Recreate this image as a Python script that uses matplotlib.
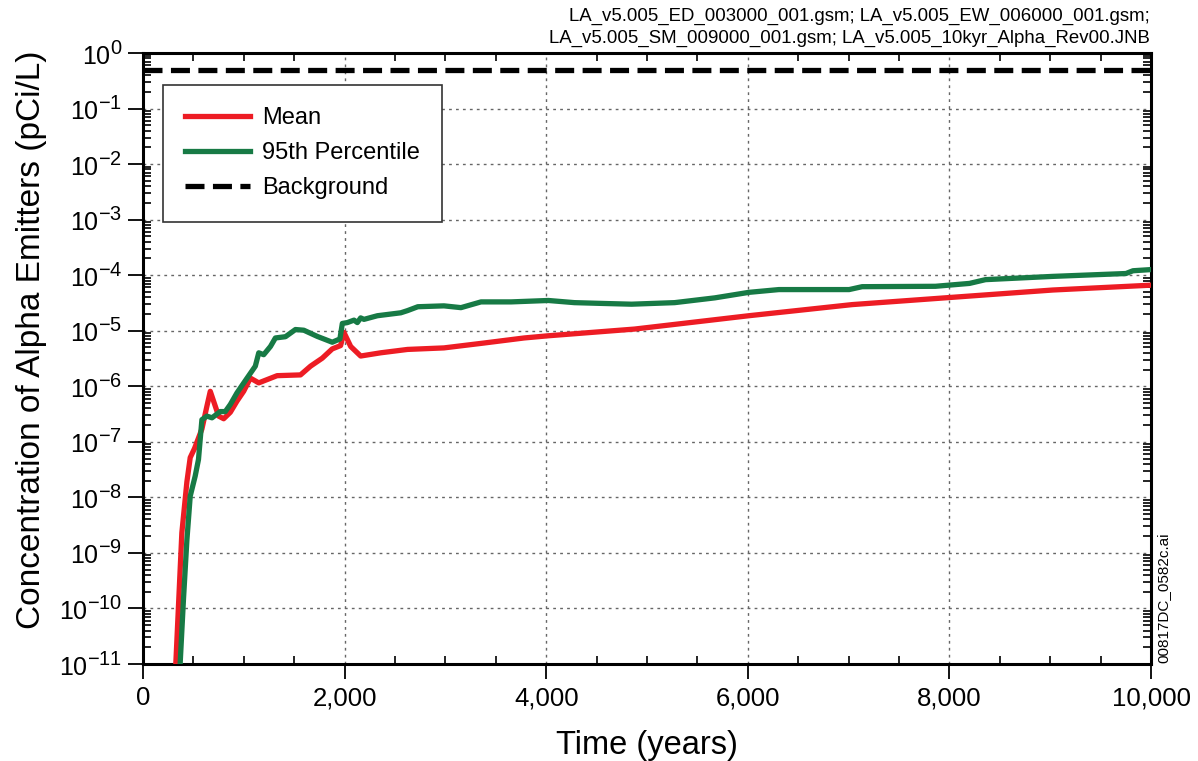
import math
import matplotlib
import matplotlib.pyplot as plt
from matplotlib.ticker import LogLocator, FixedLocator, MultipleLocator, FuncFormatter, NullFormatter

plt.rcParams['font.family'] = ['Liberation Sans', 'DejaVu Sans']
plt.rcParams['mathtext.fontset'] = 'custom'
plt.rcParams['mathtext.rm'] = 'Liberation Sans'
plt.rcParams['mathtext.it'] = 'Liberation Sans:italic'
# larger exponents on the decade labels
matplotlib._mathtext.SHRINK_FACTOR = 0.8

# mean concentration (pCi/L) vs time (years)
time_mean = [325, 385, 435, 468, 511, 584, 634, 667, 750, 800, 866, 932, 998,
             1065, 1148, 1330, 1562, 1662, 1778, 1877, 1960, 1993, 2060, 2159,
             2358, 2624, 2985, 3383, 3781, 4020, 4876, 6010, 7035, 8020, 9025, 10000]
conc_mean = [1e-11, 2.3e-9, 1.9e-8, 5.2e-8, 7.6e-8, 1.7e-7, 4.4e-7, 8.1e-7, 2.9e-7,
             2.6e-7, 3.4e-7, 5.4e-7, 8.1e-7, 1.4e-6, 1.15e-6, 1.55e-6, 1.6e-6,
             2.3e-6, 3.2e-6, 4.7e-6, 5.4e-6, 9.3e-6, 5.2e-6, 3.5e-6, 4.0e-6,
             4.6e-6, 4.9e-6, 6.0e-6, 7.4e-6, 8.1e-6, 1.07e-5, 1.86e-5, 2.95e-5,
             3.98e-5, 5.4e-5, 6.6e-5]

# 95th percentile concentration
time_p95 = [368, 401, 435, 468, 517, 550, 584, 634, 684, 766, 816, 866, 932, 965,
            1032, 1114, 1148, 1197, 1264, 1313, 1413, 1512, 1595, 1728, 1877, 1953,
            1977, 2027, 2093, 2126, 2159, 2192, 2325, 2557, 2624, 2726, 2985, 3154,
            3353, 3652, 4020, 4279, 4547, 4846, 5274, 5672, 6010, 6308, 7005, 7134,
            7861, 8199, 8358, 9025, 9751, 9821, 10000]
conc_p95 = [1e-11, 1.45e-10, 1.7e-9, 1.05e-8, 2.4e-8, 4.8e-8, 2.5e-7, 2.9e-7, 2.7e-7,
            3.5e-7, 3.5e-7, 4.7e-7, 7.6e-7, 9.3e-7, 1.4e-6, 2.3e-6, 4.0e-6, 3.7e-6,
            5.2e-6, 7.4e-6, 7.8e-6, 1.05e-5, 1.02e-5, 7.9e-6, 6.2e-6, 7.1e-6,
            1.35e-5, 1.4e-5, 1.55e-5, 1.4e-5, 1.7e-5, 1.6e-5, 1.86e-5, 2.1e-5,
            2.3e-5, 2.7e-5, 2.8e-5, 2.6e-5, 3.3e-5, 3.3e-5, 3.5e-5, 3.2e-5, 3.1e-5,
            3.0e-5, 3.2e-5, 3.9e-5, 4.9e-5, 5.5e-5, 5.5e-5, 6.2e-5, 6.3e-5, 7.1e-5,
            8.3e-5, 9.5e-5, 1.07e-4, 1.2e-4, 1.26e-4]

background = 0.5
x_ticks = [0, 2000, 4000, 6000, 8000, 10000]

fig = plt.figure(figsize=(11.98, 7.61), dpi=100)
ax = fig.add_axes([0.1194, 0.1275, 0.8414, 0.8029])

ax.plot(time_mean, conc_mean, color='#ED1C24', lw=3.8, label='Mean', zorder=3)
ax.plot(time_p95, conc_p95, color='#177A45', lw=3.8, label='95th Percentile', zorder=3)
ax.axhline(background, color='black', lw=3.8, ls=(0, (3.6, 1.6)), label='Background', zorder=3)

ax.set_yscale('log')
ax.set_xlim(0, 10000)
ax.set_ylim(1e-11, 1)

ax.xaxis.set_major_locator(FixedLocator(x_ticks))
ax.xaxis.set_minor_locator(MultipleLocator(500))
ax.xaxis.set_major_formatter(FuncFormatter(lambda v, p: f'{int(v):,}'))
ax.yaxis.set_major_locator(LogLocator(base=10, numticks=20))
ax.yaxis.set_minor_locator(LogLocator(base=10, subs=range(2, 10), numticks=20))
ax.yaxis.set_minor_formatter(NullFormatter())
ax.yaxis.set_major_formatter(FuncFormatter(lambda v, p: r'$10^{%d}$' % round(math.log10(v))))

# major ticks point outward on left/bottom only, minor ticks inward on every side
ax.tick_params(which='major', direction='out', length=11, width=1.3, pad=5)
ax.tick_params(axis='x', which='major', labelsize=18.5)
ax.tick_params(axis='y', which='major', labelsize=18, pad=4)
ax.tick_params(which='minor', direction='in', length=6, width=1.2,
               top=True, right=True, bottom=True, left=True)
for s in ax.spines.values():
    s.set_linewidth(2.2)

ax.grid(True, which='major', color='#666666', ls=(0, (2, 3)), lw=1)

ax.set_xlabel('Time (years)', fontsize=23.5, labelpad=14)
ax.set_ylabel('Concentration of Alpha Emitters (pCi/L)', fontsize=24)
ax.yaxis.set_label_coords(-0.095, 0.53)

leg = ax.legend(loc='upper left', bbox_to_anchor=(0.0198, 0.9476), borderaxespad=0,
                fontsize=17, frameon=True, fancybox=False, edgecolor='#333333',
                framealpha=1, handlelength=2.75, handletextpad=0.5,
                borderpad=0.95, labelspacing=0.55)
leg.get_frame().set_linewidth(1.2)

fig.text(0.96, 0.990, 'LA_v5.005_ED_003000_001.gsm; LA_v5.005_EW_006000_001.gsm;\n'
         'LA_v5.005_SM_009000_001.gsm; LA_v5.005_10kyr_Alpha_Rev00.JNB',
         ha='right', va='top', fontsize=13.4, linespacing=1.38)
fig.text(0.9655, 0.1288, '00817DC_0582c.ai', rotation=90, ha='left', va='bottom', fontsize=11)

fig.savefig('out.png', dpi=100)
